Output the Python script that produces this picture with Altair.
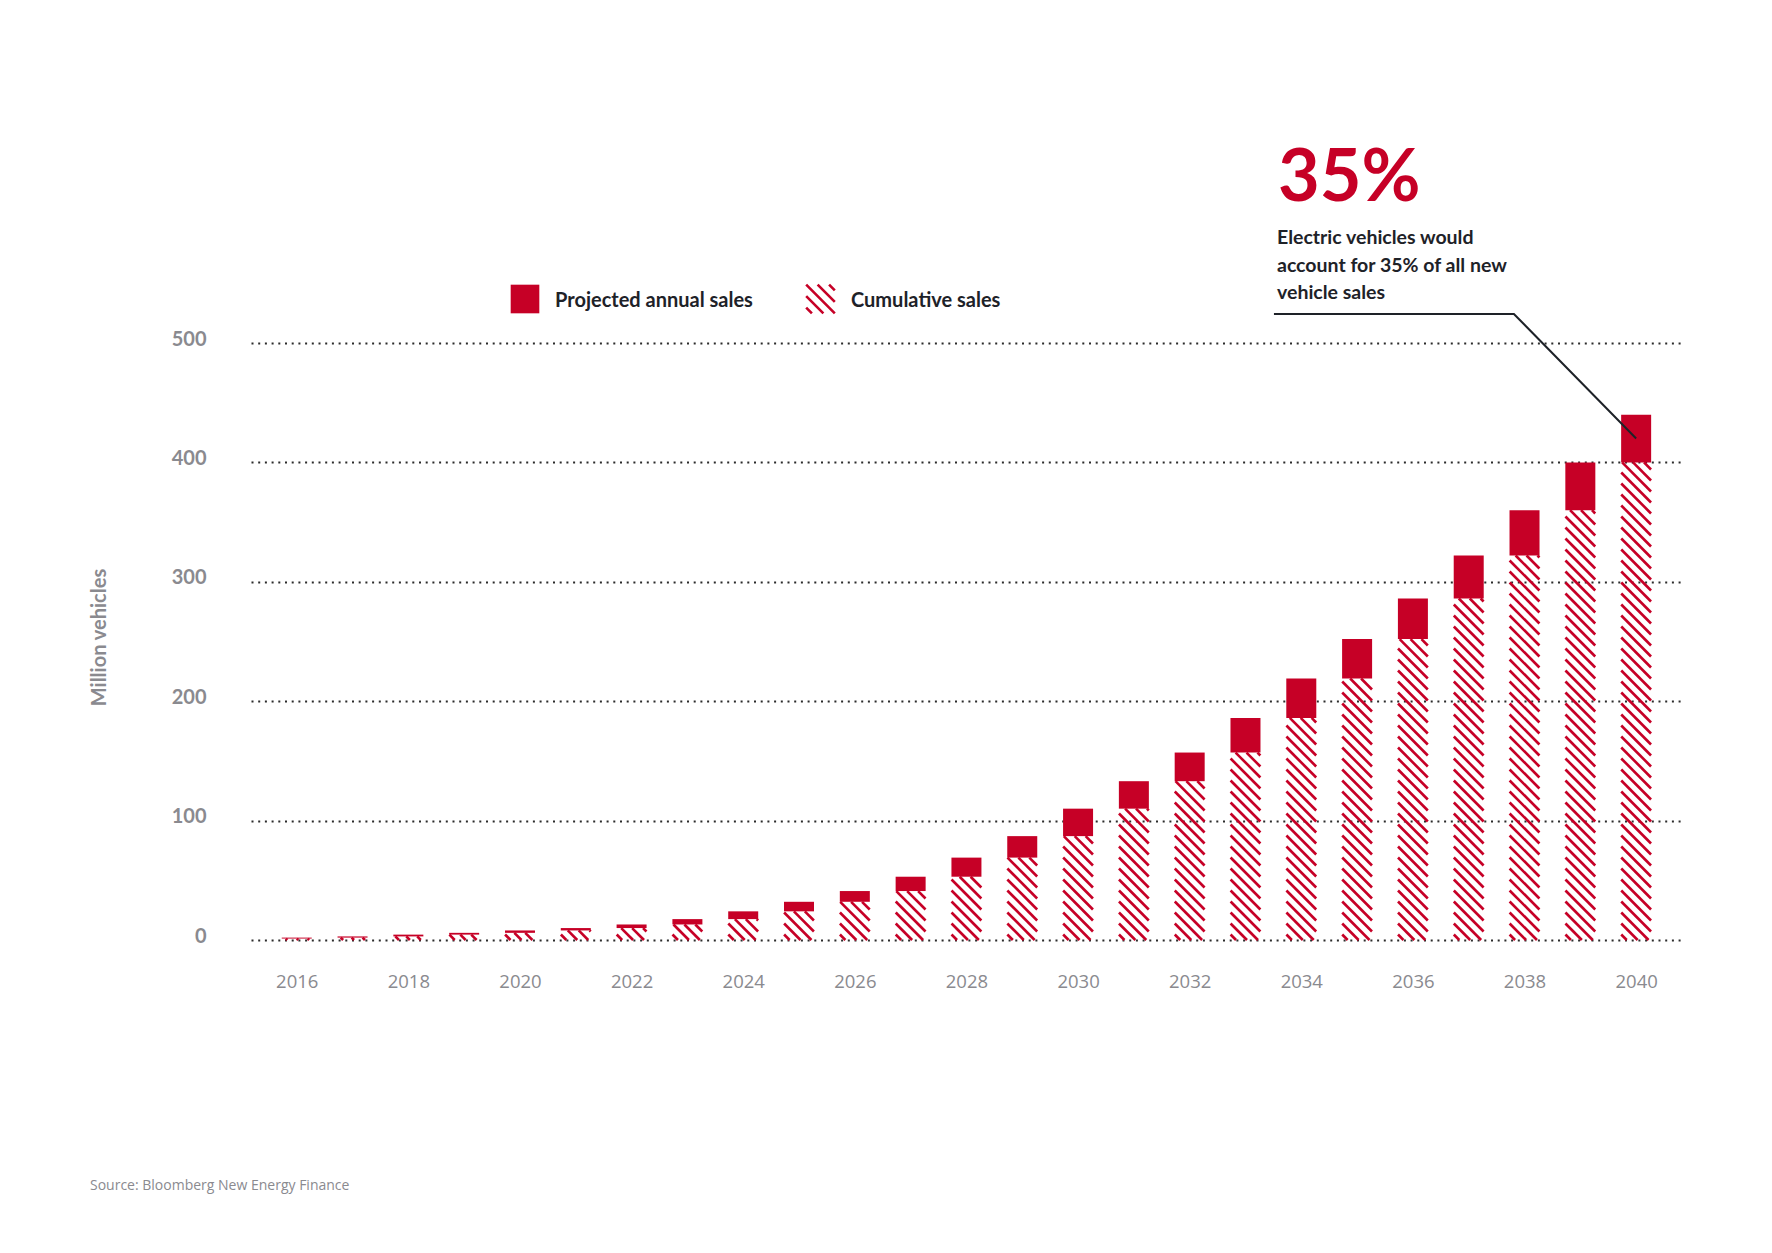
import altair as alt
import pandas as pd

# values (million vehicles)
years = list(range(2016, 2041))
cumulative = [1.2, 2, 3, 4.5, 6, 8, 10, 13, 17.5, 24, 32, 41, 53, 69, 87,
              110, 133, 157, 186, 219, 252, 286, 322, 360, 400]
annual = [0.8, 1, 1.5, 1.5, 2, 2, 3, 4.5, 6.5, 8, 9, 12, 16, 18, 23,
          23, 24, 29, 33, 33, 34, 36, 38, 40, 40]

y_ticks = [0, 100, 200, 300, 400, 500]
x_labels = list(range(2016, 2041, 2))

RED = "#c60026"
GREY = "#8a8a8f"
INK = "#1e2228"
FONT = "Lato"

# plot geometry
W, H = 1432, 597
X_DOM = [2015.27, 2040.75]
Y_DOM = [0, 500]
BAR = 30
px_year = W / (X_DOM[1] - X_DOM[0])
px_unit = H / (Y_DOM[1] - Y_DOM[0])
HW = BAR / 2 / px_year          # half bar width in years
M = px_year / px_unit           # 45 degree slope in data units
D = BAR / px_unit               # drop of one hatch line across a bar
S = 11 / px_unit                # vertical spacing of hatch lines

df = pd.DataFrame({"year": years, "cum": cumulative, "annual": annual})
df["total"] = df["cum"] + df["annual"]

xs = alt.Scale(domain=X_DOM, nice=False, zero=False)
ys = alt.Scale(domain=Y_DOM, nice=False)

base = alt.Chart(df)

annual_bars = base.mark_bar(size=BAR, color=RED).encode(
    x=alt.X("year:Q", scale=xs, axis=alt.Axis(
        values=x_labels, format="d", title=None, grid=False, ticks=False,
        domain=False, labelFont="Open Sans", labelFontSize=18.5,
        labelColor=GREY, labelPadding=32, labelBaseline="top")),
    y=alt.Y("cum:Q", scale=ys, axis=alt.Axis(
        values=y_ticks, title="Million vehicles", grid=True, gridDash=[2, 4.7],
        gridColor="#2b2b2b", gridWidth=1.8, ticks=False, tickSize=0, domain=False,
        labelFont=FONT, labelFontSize=20, labelFontWeight="bold",
        labelColor=GREY, labelPadding=45, labelOffset=-4,
        titleFont=FONT, titleFontSize=20,
        titleFontWeight="bold", titleColor=GREY, titleAngle=-90,
        titleX=-152, titleY=294, titleAlign="center", titleBaseline="middle")),
    y2="total:Q",
)

# diagonal hatch for the cumulative part, clipped to each bar
hatch = base.transform_calculate(
    k=f"sequence(0, ceil((datum.cum + {D}) / {S}))"
).transform_flatten(["k"]).transform_calculate(
    b=f"(datum.k + 0.5) * {S}"
).transform_calculate(
    x0=f"datum.year - {HW} + max(0, datum.b - datum.cum) / {M}",
    y0="min(datum.b, datum.cum)",
    x1=f"datum.year - {HW} + min({D}, datum.b) / {M}",
    y1=f"max(0, datum.b - {D})",
).transform_filter("datum.y0 > datum.y1").mark_rule(
    color=RED, strokeWidth=2.6, strokeCap="butt"
).encode(
    x=alt.X("x0:Q", scale=xs),
    x2="x1:Q",
    y=alt.Y("y0:Q", scale=ys),
    y2="y1:Q",
)

# annotation leader line, ending inside the 2040 annual bar
lead = pd.DataFrame({"x": [2033.51, 2037.81, 2040.0],
                     "y": [524.3, 524.3, 420.0],
                     "o": [0, 1, 2]})
leader = alt.Chart(lead).mark_line(color=INK, strokeWidth=2).encode(
    x=alt.X("x:Q", scale=xs), y=alt.Y("y:Q", scale=ys), order="o:Q")


def label(text, x, y, size, color, weight="normal", font=FONT, **kw):
    return alt.Chart(pd.DataFrame({"t": [text]})).mark_text(
        font=font, fontSize=size, color=color, fontWeight=weight,
        align="left", baseline="alphabetic", **kw
    ).encode(x=alt.value(x), y=alt.value(y), text="t:N")


big = label("35%", 1027, -142, 72, RED, "bold")
note = label("Electric vehicles would\naccount for 35% of all new\nvehicle sales",
             1026, -99, 19.5, INK, "bold", lineBreak="\n", lineHeight=27.5)
source = label("Source: Bloomberg New Energy Finance", -161, 847, 14, GREY,
               font="Open Sans")

one = pd.DataFrame({"k": [0]})
HATCH_ICON = ("M-1,-1L1,1M-0.2,-1L1,0.2M0.6,-1L1,-0.6"
              "M-1,-0.2L0.2,1M-1,0.6L-0.6,1")
leg_square = alt.Chart(one).mark_square(size=820, color=RED, opacity=1).encode(
    x=alt.value(274), y=alt.value(-44))
leg_hatch = alt.Chart(one).mark_point(
    shape=HATCH_ICON, size=820, filled=False, stroke=RED, strokeWidth=2.6,
    opacity=1, strokeCap="butt").encode(x=alt.value(569.5), y=alt.value(-44))
leg_t1 = label("Projected annual sales", 304, -36, 20, INK, "bold")
leg_t2 = label("Cumulative sales", 600, -36, 20, INK, "bold")

chart = alt.layer(
    annual_bars, hatch, leader, big, note, source,
    leg_square, leg_hatch, leg_t1, leg_t2,
).properties(
    width=W, height=H, background="white",
    autosize=alt.AutoSizeParams(type="none"),
    padding={"left": 243, "top": 335, "right": 81, "bottom": 305},
).configure_view(stroke=None)

chart.save("out.html", embed_options={"renderer": "svg", "actions": False})
